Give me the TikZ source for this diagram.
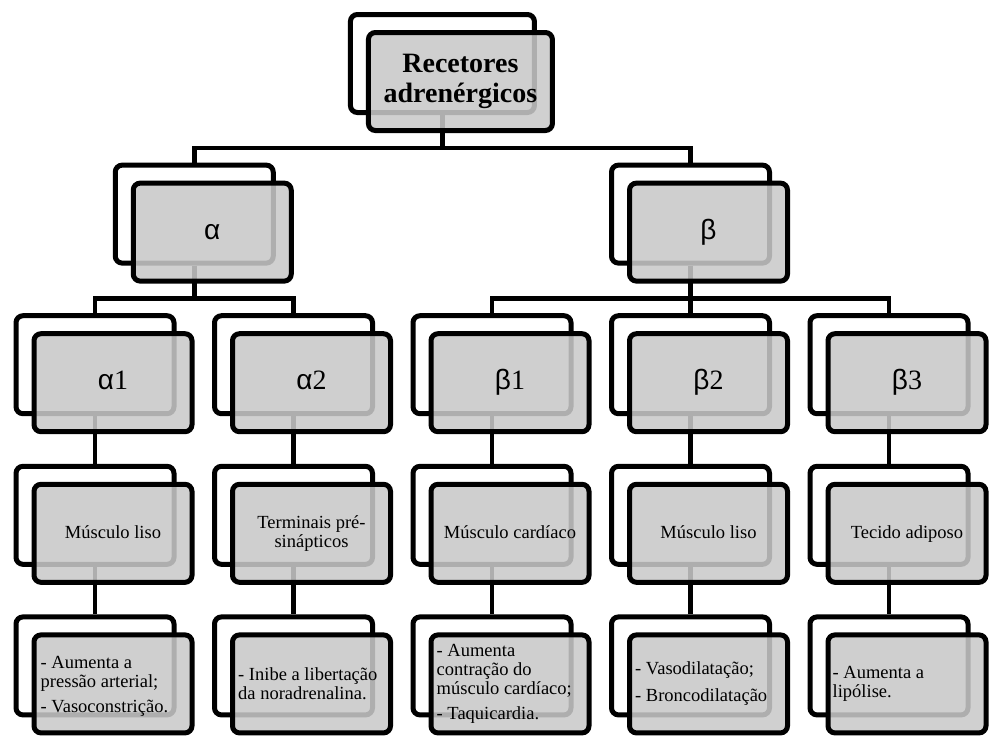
\documentclass[tikz,border=0pt]{standalone}
\usepackage{fontspec}
\setmainfont{Liberation Serif}
\newfontfamily\grk{Liberation Sans}
\usetikzlibrary{backgrounds}
\definecolor{frontgray}{RGB}{201,201,201}
\begin{document}
\begin{tikzpicture}[x=1pt,y=-1pt,
  box/.style={shape=rectangle, draw=black, line width=5pt, rounded corners=7pt,
    minimum width=158pt, minimum height=98pt, inner sep=0pt},
  backbox/.style={box, fill=white},
  frontbox/.style={box, fill=frontgray, fill opacity=0.87, text opacity=1, align=center},
  conn/.style={line width=4.5pt, draw=black},
  greek/.style={font=\fontsize{28}{30}\selectfont, text height=20pt, text depth=6pt},
  mid/.style={font=\fontsize{18.5}{19}\selectfont, text height=14pt, text depth=4pt},
  note/.style={font=\fontsize{18.5}{19}\selectfont, anchor=west, align=left, inner sep=0pt},
]
\useasboundingbox (0,0) rectangle (989,736);

% level 1
\node[backbox, minimum width=184pt] (topb) at (442.4,63.5) {};
\node[frontbox, minimum width=184pt, font=\fontsize{28}{30}\selectfont\bfseries] (top) at ([shift={(18,18)}]topb.center) {Recetores\\adrenérgicos};

% level 2
\node[backbox] (alb) at (194.25,214.1) {};
\node[frontbox, greek] (al) at ([shift={(18,18)}]alb.center) {{\grk α}};
\node[backbox] (beb) at (690.5,214.1) {};
\node[frontbox, greek] (be) at ([shift={(18,18)}]beb.center) {{\grk β}};

% level 3
\node[backbox] (a1b) at (95,364.7) {};
\node[frontbox, greek] (a1) at ([shift={(18,18)}]a1b.center) {{\grk α}1};
\node[backbox] (a2b) at (293.5,364.7) {};
\node[frontbox, greek] (a2) at ([shift={(18,18)}]a2b.center) {{\grk α}2};
\node[backbox] (b1b) at (492,364.7) {};
\node[frontbox, greek] (b1) at ([shift={(18,18)}]b1b.center) {{\grk β}1};
\node[backbox] (b2b) at (690.5,364.7) {};
\node[frontbox, greek] (b2) at ([shift={(18,18)}]b2b.center) {{\grk β}2};
\node[backbox] (b3b) at (889,364.7) {};
\node[frontbox, greek] (b3) at ([shift={(18,18)}]b3b.center) {{\grk β}3};

% level 4
\node[backbox] (a1tb) at (95,515.3) {};
\node[frontbox, mid] (a1t) at ([shift={(18,18)}]a1tb.center) {Músculo liso};
\node[backbox] (a2tb) at (293.5,515.3) {};
\node[frontbox, mid, text height=33pt] (a2t) at ([shift={(18,18)}]a2tb.center) {Terminais pré-\\sinápticos};
\node[backbox] (b1tb) at (492,515.3) {};
\node[frontbox, mid] (b1t) at ([shift={(18,18)}]b1tb.center) {Músculo cardíaco};
\node[backbox] (b2tb) at (690.5,515.3) {};
\node[frontbox, mid] (b2t) at ([shift={(18,18)}]b2tb.center) {Músculo liso};
\node[backbox] (b3tb) at (889,515.3) {};
\node[frontbox, mid] (b3t) at ([shift={(18,18)}]b3tb.center) {Tecido adiposo};

% level 5
\node[backbox] (a1eb) at (95,665.9) {};
\node[frontbox] (a1e) at ([shift={(18,18)}]a1eb.center) {};
\node[note] (a1et) at ([xshift=9pt,yshift=-2pt]a1e.west) {- Aumenta a\\pressão arterial;\\[6pt]- Vasoconstrição.};
\node[backbox] (a2eb) at (293.5,665.9) {};
\node[frontbox] (a2e) at ([shift={(18,18)}]a2eb.center) {};
\node[note] (a2et) at ([xshift=8pt]a2e.west) {- Inibe a libertação\\da noradrenalina.};
\node[backbox] (b1eb) at (492,665.9) {};
\node[frontbox] (b1e) at ([shift={(18,18)}]b1eb.center) {};
\node[note] (b1et) at ([xshift=8pt]b1e.west) {- Aumenta\\contração do\\músculo cardíaco;\\[6pt]- Taquicardia.};
\node[backbox] (b2eb) at (690.5,665.9) {};
\node[frontbox] (b2e) at ([shift={(18,18)}]b2eb.center) {};
\node[note] (b2et) at ([xshift=8pt]b2e.west) {- Vasodilatação;\\[8pt]- Broncodilatação};
\node[backbox] (b3eb) at (889,665.9) {};
\node[frontbox] (b3e) at ([shift={(18,18)}]b3eb.center) {};
\node[note] (b3et) at ([xshift=7pt]b3e.west) {- Aumenta a\\lipólise.};

\begin{scope}[on background layer]
  \draw[conn] (topb.south) -- ++(0,33) -| (alb.north);
  \draw[conn] (topb.south) -- ++(0,33) -| (beb.north);
  \draw[conn] (alb.south) -- ++(0,33) -| (a1b.north);
  \draw[conn] (alb.south) -- ++(0,33) -| (a2b.north);
  \draw[conn] (beb.south) -- ++(0,33) -| (b1b.north);
  \draw[conn] (beb.south) -- (b2b.north);
  \draw[conn] (beb.south) -- ++(0,33) -| (b3b.north);
  \draw[conn] (a1b.south) -- (a1tb.north);
  \draw[conn] (a2b.south) -- (a2tb.north);
  \draw[conn] (b1b.south) -- (b1tb.north);
  \draw[conn] (b2b.south) -- (b2tb.north);
  \draw[conn] (b3b.south) -- (b3tb.north);
  \draw[conn] (a1tb.south) -- (a1eb.north);
  \draw[conn] (a2tb.south) -- (a2eb.north);
  \draw[conn] (b1tb.south) -- (b1eb.north);
  \draw[conn] (b2tb.south) -- (b2eb.north);
  \draw[conn] (b3tb.south) -- (b3eb.north);
\end{scope}
\end{tikzpicture}
\end{document}
